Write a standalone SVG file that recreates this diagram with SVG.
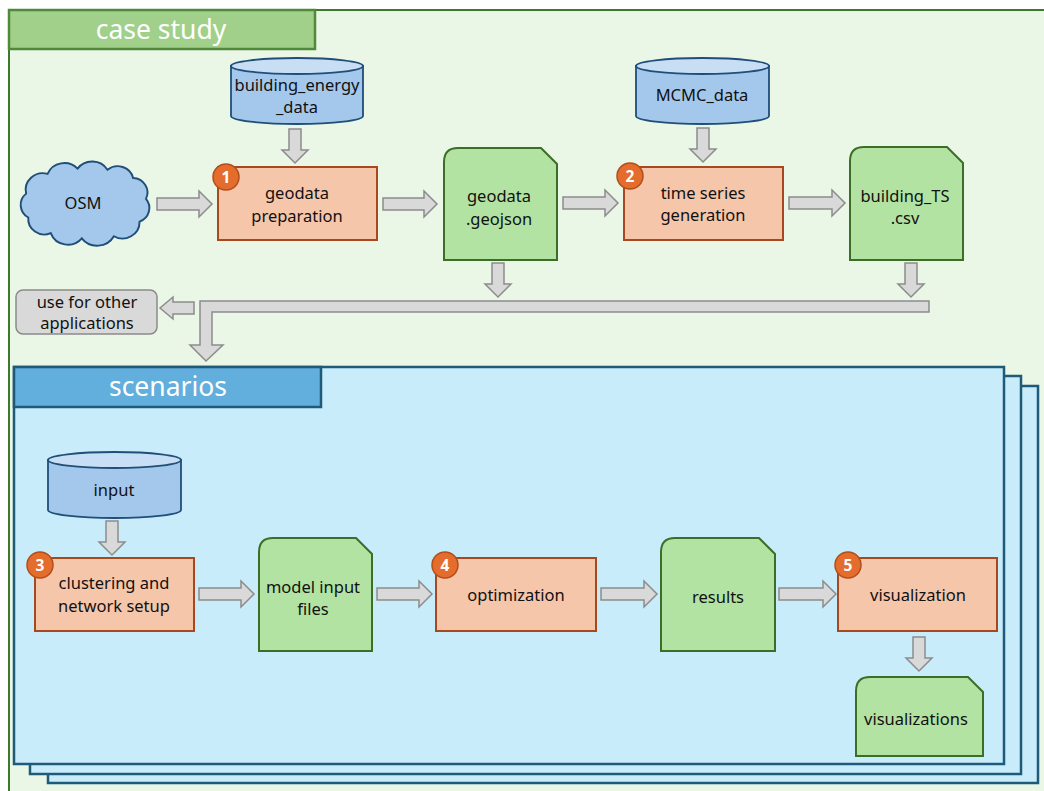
<svg xmlns="http://www.w3.org/2000/svg" width="1044" height="791" viewBox="0 0 1044 791">
<style>
text{font-family:"Noto Sans","Open Sans","Liberation Sans",sans-serif;font-size:16.5px;fill:#111;text-anchor:middle;dominant-baseline:central}
.hdr{fill:#fff;font-size:26.5px}
.badge text{fill:#fff;font-weight:bold;font-size:15.5px}
.badge circle{fill:#E46C2D;stroke:#B34E1A;stroke-width:1.5}
.proc{fill:#F6C6AB;stroke:#A6491F;stroke-width:2}
.doc{fill:#B3E3A2;stroke:#3C6E27;stroke-width:2}
.cyl{fill:#A4C8EC;stroke:#1F4E79;stroke-width:1.8}
.cyltop{fill:#C7DEF4;stroke:#1F4E79;stroke-width:1.8}
.arr{fill:#D9D9D9;stroke:#8C8C8C;stroke-width:1.5;stroke-linejoin:miter}
.scen{fill:#C9ECFB;stroke:#1F5A78;stroke-width:2.5}
</style>
<rect width="1044" height="791" fill="#ffffff"/>
<g id="case-study">
<rect x="9" y="10" width="1100" height="800" fill="#EAF6E6" stroke="#3E7A2E" stroke-width="2"/>
<rect x="9" y="10" width="306" height="39" fill="#A0D08A" stroke="#4F8A3A" stroke-width="2.5"/>
<text class="hdr" x="161" y="29">case study</text>
</g>
<g id="scenarios">
<rect class="scen" x="48" y="386" width="990" height="397"/>
<rect class="scen" x="30" y="376" width="991" height="398"/>
<rect class="scen" x="14" y="367" width="990" height="397"/>
<rect x="14" y="367" width="307" height="40" fill="#62AEDC" stroke="#1F5A78" stroke-width="2.5"/>
<text class="hdr" x="168" y="386">scenarios</text>
</g>
<g id="connectors">
<polygon class="arr" points="157,198 199,198 199,191 212,204 199,217 199,210 157,210"/>
<polygon class="arr" points="383,198 424,198 424,191 437,204 424,217 424,210 383,210"/>
<polygon class="arr" points="563,197 605,197 605,190 618,203 605,216 605,209 563,209"/>
<polygon class="arr" points="789,197 832,197 832,190 845,203 832,216 832,209 789,209"/>
<polygon class="arr" points="199,588 241,588 241,581 254,594 241,607 241,600 199,600"/>
<polygon class="arr" points="377,588 419,588 419,581 432,594 419,607 419,600 377,600"/>
<polygon class="arr" points="601,588 644,588 644,581 657,594 644,607 644,600 601,600"/>
<polygon class="arr" points="779,588 823,588 823,581 836,594 823,607 823,600 779,600"/>
<polygon class="arr" points="289,129 301,129 301,150 308,150 295,163 282,150 289,150"/>
<polygon class="arr" points="697,128 709,128 709,149 716,149 703,162 690,149 697,149"/>
<polygon class="arr" points="492,263 504,263 504,284 511,284 498,297 485,284 492,284"/>
<polygon class="arr" points="905,263 917,263 917,284 924,284 911,297 898,284 905,284"/>
<polygon class="arr" points="106,521 118,521 118,542 125,542 112,555 99,542 106,542"/>
<polygon class="arr" points="913,637 925,637 925,658 932,658 919,671 906,658 913,658"/>
<polygon class="arr" points="929,301 200,301 200,345 190,345 206,361 223,345 212,345 212,312 929,312"/>
<polygon class="arr" points="194,302 173,302 173,297 160,308 173,319 173,314 194,314"/>
</g>
<g id="osm">
<path transform="translate(85,204) scale(1.07,1.04) translate(-85,-205)" d="M30,195 A16,16 0 0 1 50,176 A17,17 0 0 1 78,171 A17,17 0 0 1 106,172 A15,15 0 0 1 130,180 A14,14 0 0 1 142,200 A14,14 0 0 1 136,222 A16,16 0 0 1 112,236 A18,18 0 0 1 82,238 A17,17 0 0 1 53,233 A15,15 0 0 1 32,218 A14,14 0 0 1 30,195 Z" fill="#A4C8EC" stroke="#1F4E79" stroke-width="1.8"/>
<text x="83" y="202">OSM</text>
</g>
<g id="building-energy-data">
<path class="cyl" d="M231,66 L231,116 A66,8 0 0 0 363,116 L363,66 Z"/>
<ellipse class="cyltop" cx="297" cy="66" rx="66" ry="8"/>
<text x="297" y="84">building_energy</text>
<text x="297" y="106">_data</text>
</g>
<g id="mcmc-data">
<path class="cyl" d="M636,66 L636,116 A66.5,8 0 0 0 769,116 L769,66 Z"/>
<ellipse class="cyltop" cx="702.5" cy="66" rx="66.5" ry="8"/>
<text x="702" y="94">MCMC_data</text>
</g>
<g id="geodata-preparation">
<rect class="proc" x="218" y="167" width="159" height="73"/>
<g class="badge"><circle cx="226" cy="177" r="13"/><text x="226" y="177">1</text></g>
<text x="297" y="192">geodata</text>
<text x="297" y="215">preparation</text>
</g>
<g id="geodata-geojson">
<path class="doc" d="M444,260 L444,162 Q444,148 458,148 L541,148 L557,164 L557,260 Z"/>
<text x="499" y="195">geodata</text>
<text x="499" y="218">.geojson</text>
</g>
<g id="time-series-generation">
<rect class="proc" x="624" y="167" width="159" height="73"/>
<g class="badge"><circle cx="630" cy="176" r="13"/><text x="630" y="176">2</text></g>
<text x="703" y="192">time series</text>
<text x="703" y="214">generation</text>
</g>
<g id="building-ts">
<path class="doc" d="M850,260 L850,161 Q850,147 864,147 L947,147 L963,163 L963,260 Z"/>
<text x="905" y="195">building_TS</text>
<text x="905" y="217">.csv</text>
</g>
<g id="other-applications">
<rect x="16" y="290" width="141" height="44" rx="7" fill="#D9D9D9" stroke="#8A8A8A" stroke-width="1.5"/>
<text x="87" y="301">use for other</text>
<text x="87" y="322">applications</text>
</g>
<g id="input">
<path class="cyl" d="M48,460 L48,510 A66.5,8 0 0 0 181,510 L181,460 Z"/>
<ellipse class="cyltop" cx="114.5" cy="460" rx="66.5" ry="8"/>
<text x="114" y="489">input</text>
</g>
<g id="clustering">
<rect class="proc" x="35" y="558" width="159" height="73"/>
<g class="badge"><circle cx="40" cy="565" r="13"/><text x="40" y="565">3</text></g>
<text x="114" y="582">clustering and</text>
<text x="114" y="605">network setup</text>
</g>
<g id="model-input-files">
<path class="doc" d="M259,651 L259,552 Q259,538 273,538 L356,538 L372,554 L372,651 Z"/>
<text x="313" y="586">model input</text>
<text x="313" y="608">files</text>
</g>
<g id="optimization">
<rect class="proc" x="436" y="558" width="160" height="73"/>
<g class="badge"><circle cx="445" cy="565" r="13"/><text x="445" y="565">4</text></g>
<text x="516" y="594">optimization</text>
</g>
<g id="results">
<path class="doc" d="M661,651 L661,552 Q661,538 675,538 L759,538 L775,554 L775,651 Z"/>
<text x="718" y="596">results</text>
</g>
<g id="visualization">
<rect class="proc" x="838" y="558" width="159" height="73"/>
<g class="badge"><circle cx="848" cy="565" r="13"/><text x="848" y="565">5</text></g>
<text x="918" y="594">visualization</text>
</g>
<g id="visualizations">
<path class="doc" d="M856,756 L856,691 Q856,677 870,677 L968,677 L983,692 L983,756 Z"/>
<text x="916" y="718">visualizations</text>
</g>
</svg>
